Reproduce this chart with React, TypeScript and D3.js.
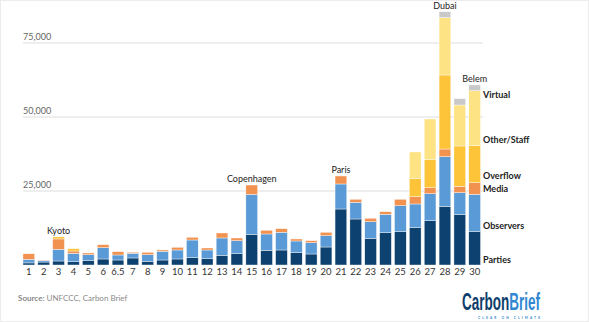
import React from "react";
import * as d3 from "d3";

const categories = ["1","2","3","4","5","6","6.5","7","8","9","10","11","12","13","14","15","16","17","18","19","20","21","22","23","24","25","26","27","28","29","30"];
const parties = [700,1000,1350,1100,1600,2030,1690,2370,1250,1690,2030,2600,2130,3280,3820,10370,4970,5070,4160,3720,6080,18920,15540,9020,10910,11250,12740,14970,19830,17000,11390];
const observers = [1200,500,3950,2850,1900,3820,1690,1590,2230,2940,3040,5850,2940,5850,4390,13510,5510,5980,3950,3820,3820,8450,5640,5610,6220,8790,7870,9120,16760,7430,12500];
const media = [1900,100,3500,780,570,1010,1120,340,810,440,910,910,680,1690,910,3140,1250,1220,680,680,1150,2700,1010,1150,880,2160,2470,2030,2600,2160,3920];
const overflow = [0,0,700,780,0,0,0,0,0,0,0,0,0,0,0,0,0,0,0,0,0,0,0,0,0,0,6220,9600,25000,13620,12500];
const otherStaff = [0,0,0,0,0,0,0,0,0,0,0,0,0,0,0,0,0,0,0,0,0,0,0,0,0,0,8890,13620,19360,13850,18590];
const virtual = [0,0,0,0,0,0,0,0,0,0,0,0,0,0,0,0,0,0,0,0,0,0,0,0,0,0,0,0,2030,2130,1930];

const seriesNames = ["Parties","Observers","Media","Overflow","Other/Staff","Virtual"];
const seriesValues = [parties, observers, media, overflow, otherStaff, virtual];
const seriesColors = ["#0d416f","#5a9ad6","#f29250","#fdc43a","#fee384","#c9c9c9"];
const yTicks = [25000, 50000, 75000];
const annotations = [
  { cat: "3", text: "Kyoto" },
  { cat: "15", text: "Copenhagen" },
  { cat: "21", text: "Paris" },
  { cat: "28", text: "Dubai" },
  { cat: "30", text: "Belem" },
];

const W = 589, H = 322;
const FONT = "Lato, 'Open Sans', sans-serif";

export default function App() {
  const rows = categories.map((c, i) => {
    const r: any = { cat: c };
    seriesNames.forEach((s, k) => (r[s] = seriesValues[k][i]));
    return r;
  });
  const stack = d3.stack().keys(seriesNames)(rows as any);
  const x = d3.scaleBand().domain(categories).range([21.4, 482.1]).paddingInner(0.21).paddingOuter(0.105);
  const y = d3.scaleLinear().domain([0, 75000]).range([265, 43]);
  const fmt = d3.format(",");
  const legendY: Record<string, number> = {
    Parties: 261, Observers: 227, Media: 190, Overflow: 177, "Other/Staff": 141, Virtual: 96,
  };

  return (
    <div style={{ position: "fixed", left: 0, top: 0 }}>
      <svg width={W} height={H} style={{ display: "block", background: "#fff" }} fontFamily={FONT}>
        <rect x={0.5} y={0.5} width={W - 1} height={H - 1} fill="none" stroke="#ececec" />
        {yTicks.map((t) => (
          <g key={t}>
            <line x1={23} x2={483} y1={y(t)} y2={y(t)} stroke="#e8e8e8" strokeWidth={1.5} />
            <text x={23} y={y(t) - 3} fontSize={9} fill="#666">{fmt(t)}</text>
          </g>
        ))}
        {stack.map((s, k) => (
          <g key={s.key} fill={seriesColors[k]}>
            {s.map((d: any, i: number) =>
              d[1] - d[0] > 0 ? (
                <rect key={i} x={x(categories[i])} width={x.bandwidth()} y={y(d[1])} height={y(d[0]) - y(d[1])} stroke="#fff" strokeWidth={0.4} />
              ) : null
            )}
          </g>
        ))}
        {categories.map((c) => (
          <text key={c} x={(x(c) as number) + x.bandwidth() / 2} y={275} fontSize={9.5} fill="#333" textAnchor="middle">{c}</text>
        ))}
        {annotations.map((a) => {
          const i = categories.indexOf(a.cat);
          const top = stack[stack.length - 1][i][1];
          return (
            <text key={a.text} x={(x(a.cat) as number) + x.bandwidth() / 2} y={y(top) - 3} fontSize={9} fill="#222" textAnchor="middle">{a.text}</text>
          );
        })}
        {seriesNames.map((s) => (
          <text key={s} x={483} y={legendY[s]} fontSize={9} fontWeight="bold" fill="#222" dominantBaseline="middle">{s}</text>
        ))}
        <text x={18} y={301} fontSize={8} fill="#8a8a8a">
          <tspan fontWeight="bold">Source:</tspan> UNFCCC, Carbon Brief
        </text>
        <g transform="translate(462,310) scale(0.563,1)">
          <text x={0} y={0} fontSize={24} fontWeight="bold" fontFamily="'Liberation Sans', Arial, sans-serif">
            <tspan fill="#0e3d6c">Carbon</tspan><tspan fill="#3187d3">Brief</tspan>
          </text>
        </g>
        <text x={478} y={319} fontSize={3.2} fontWeight="bold" fill="#3187d3" textLength={62} lengthAdjust="spacing">CLEAR ON CLIMATE</text>
      </svg>
    </div>
  );
}
